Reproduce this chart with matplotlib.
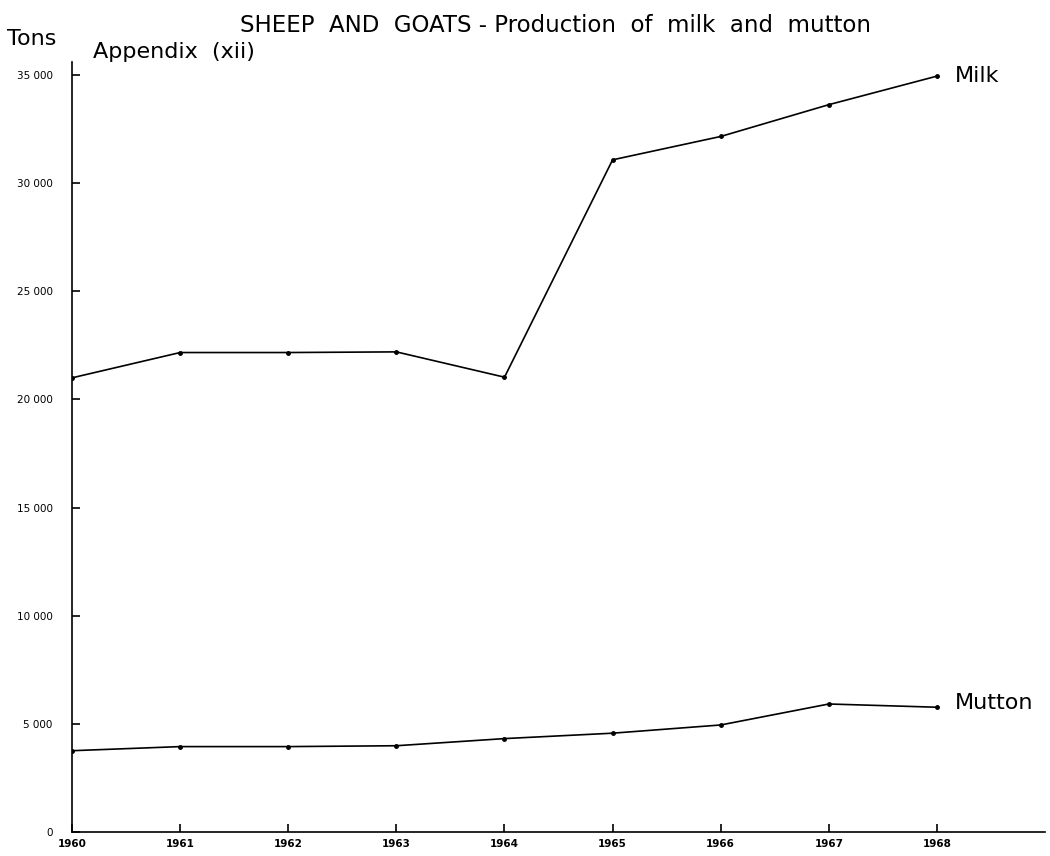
import matplotlib
matplotlib.use("Agg")
import matplotlib.pyplot as plt

# data
years = [1960, 1961, 1962, 1963, 1964, 1965, 1966, 1967, 1968]
milk = [21000, 22170, 22170, 22200, 21030, 31080, 32160, 33630, 34950]
mutton = [3760, 3950, 3950, 3990, 4320, 4570, 4950, 5920, 5770]
ytick_vals = [0, 5000, 10000, 15000, 20000, 25000, 30000, 35000]
ytick_labels = ["0", "5 000", "10 000", "15 000", "20 000", "25 000", "30 000", "35 000"]

plt.rcParams['font.family'] = ['DejaVu Sans']

fig = plt.figure(figsize=(10.5, 8.56), dpi=100)
ax = fig.add_axes([0.0686, 0.028, 0.9267, 0.8995])

ax.plot(years, milk, color='black', lw=1.2, marker='o', ms=2.5)
ax.plot(years, mutton, color='black', lw=1.2, marker='o', ms=2.5)

ax.set_xlim(1960, 1969)
ax.set_ylim(0, 35600)

ax.spines['top'].set_visible(False)
ax.spines['right'].set_visible(False)
ax.spines['left'].set_linewidth(1.2)
ax.spines['bottom'].set_linewidth(1.2)

ax.set_xticks(years)
ax.set_xticklabels([str(y) for y in years], fontsize=7.5, fontweight='bold')
ax.set_yticks(ytick_vals)
ax.set_yticklabels(ytick_labels, fontsize=7.5)
ax.tick_params(axis='both', direction='in', length=6, width=1.2, color='black')
ax.tick_params(axis='x', pad=5)
ax.tick_params(axis='y', pad=14)

# series labels at the end of each line
ax.text(years[-1] + 0.17, milk[-1], "Milk", fontsize=16, va='center', ha='left')
ax.text(years[-1] + 0.17, mutton[-1] + 200, "Mutton", fontsize=16, va='center', ha='left')

fig.text(0.529, 0.970, "SHEEP  AND  GOATS - Production  of  milk  and  mutton",
         fontsize=16.5, ha='center', va='center')
fig.text(0.007, 0.955, "Tons", fontsize=16, ha='left', va='center')
fig.text(0.089, 0.939, "Appendix  (xii)", fontsize=16, ha='left', va='center')

plt.savefig('out.png', dpi=100)
